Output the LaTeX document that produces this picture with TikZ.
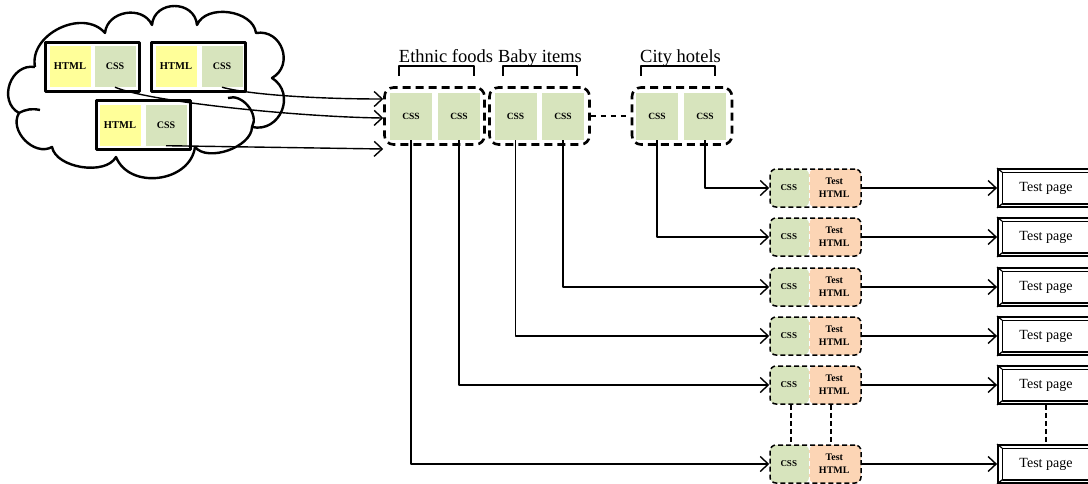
\documentclass[tikz,border=0pt]{standalone}
\usepackage{fontspec}
\setmainfont{Liberation Serif}
\usetikzlibrary{arrows.meta,calc}
\definecolor{htmlyellow}{HTML}{FFFF99}
\definecolor{cssgreen}{HTML}{D7E4BD}
\definecolor{testorange}{HTML}{FCD5B5}

\begin{document}
\begin{tikzpicture}[x=1pt,y=-1pt,line join=round,
  cloudline/.style={line width=2.4pt},
  cell/.style={inner sep=0pt,font=\fontsize{9.5}{13}\selectfont\bfseries},
  htmlcell/.style={cell,fill=htmlyellow,minimum width=41pt,minimum height=41pt,font=\fontsize{10.5}{12}\selectfont\bfseries},
  csscell/.style={cell,fill=cssgreen,minimum width=41pt,minimum height=41pt,font=\fontsize{10}{12}\selectfont\bfseries},
  bundle/.style={draw,line width=3pt,fill=white,minimum width=94pt,minimum height=49pt,inner sep=0pt},
  site/.style={draw,line width=2.6pt,dash pattern=on 8pt off 5pt,rounded corners=9pt,
    minimum width=100pt,minimum height=57pt,inner sep=0pt},
  sitecss/.style={cell,fill=cssgreen,minimum width=42pt,minimum height=47pt},
  bracket/.style={line width=2.5pt},
  sitelabel/.style={font=\fontsize{18.5}{20}\selectfont,anchor=base,inner sep=0pt},
  conn/.style={line width=1.4pt,-{Straight Barb[length=8pt,width=15pt,line width=1.4pt]}},
  testrow/.style={draw,line width=1.5pt,dash pattern=on 5pt off 3pt,rounded corners=6pt,
    minimum width=91pt,minimum height=38pt,inner sep=0pt,
    path picture={
      \fill[cssgreen] (path picture bounding box.north west) rectangle ([xshift=39pt]path picture bounding box.south west);
      \fill[testorange] ([xshift=39pt]path picture bounding box.north west) rectangle (path picture bounding box.south east);
      \draw[white,line width=1pt] ([xshift=39pt]path picture bounding box.north west) -- ([xshift=39pt]path picture bounding box.south west);}},
  rowcss/.style={cell,font=\fontsize{9}{13}\selectfont\bfseries},
  rowhtml/.style={cell,align=center,font=\fontsize{10}{13}\selectfont\bfseries},
  pagebox/.style={draw,line width=1.8pt,minimum width=96pt,minimum height=38pt,inner sep=0pt,
    font=\fontsize{14}{16}\selectfont},
  bevel/.style={line width=1.2pt},
  rowlink/.style={line width=1.5pt,dash pattern=on 5pt off 3pt}
]
\clip (0,0) rectangle (1088,483);

% cloud outline built from puffs
\draw[cloudline] (35,67) to[bend left=75,looseness=1.1] (105,33)
  to[bend left=75,looseness=1.2] (152,25)
  to[bend left=85,looseness=1.45] (197,25)
  to[bend left=75,looseness=1.0] (256,33)
  to[bend left=80,looseness=1.4] (272,78)
  to[bend left=80,looseness=1.4] (252,127)
  to[bend left=70,looseness=0.85] (195,147)
  to[bend left=75,looseness=1.15] (116,157)
  to[bend left=70,looseness=0.85] (52,147)
  to[bend left=75,looseness=1.1] (19,113)
  to[bend left=80,looseness=1.3] (35,67);
\draw[cloudline] (228,98) to[bend left=70,looseness=1.0] (252,127);
\draw[cloudline] (19,113) to[bend left=20] (40,110);

% HTML/CSS bundles inside the cloud
\node[bundle] (b1) at (92.5,66.5) {};
\node[htmlcell] (b1h) at (70,66.5) {HTML};
\node[csscell] (b1c) at (115,66.5) {CSS};
\node[bundle] (b2) at (198.5,66.5) {};
\node[htmlcell] (b2h) at (176,66.5) {HTML};
\node[csscell] (b2c) at (222,66.5) {CSS};
\node[bundle] (b3) at (143.5,124.5) {};
\node[htmlcell] (b3h) at (120,125) {HTML};
\node[csscell] (b3c) at (166,125) {CSS};

% site groups
\node[site] (g1) at (434.5,116) {};
\node[sitecss] (g1a) at (411,116.5) {CSS};
\node[sitecss] (g1b) at (459,116.5) {CSS};
\node[site] (g2) at (539.5,116) {};
\node[sitecss] (g2a) at (515.5,116.5) {CSS};
\node[sitecss] (g2b) at (563,116.5) {CSS};
\node[site] (g3) at (682,116) {};
\node[sitecss] (g3a) at (657,116.5) {CSS};
\node[sitecss] (g3b) at (705,116.5) {CSS};
\draw[line width=2pt,dash pattern=on 5pt off 5pt] (g2.east) -- (g3.west);

% group labels with brackets
\node[sitelabel] (l1) at (446,62) {Ethnic foods};
\node[sitelabel] (l2) at (540,62) {Baby items};
\node[sitelabel] (l3) at (680.5,62) {City hotels};
\draw[bracket] ($(g1.north)+(-35.5,-10)$) -- ++(0,-10) -- ++(75,0) -- ++(0,10);
\draw[bracket] ($(g2.north)+(-36.5,-10)$) -- ++(0,-10) -- ++(74,0) -- ++(0,10);
\draw[bracket] ($(g3.north)+(-41,-10)$) -- ++(0,-10) -- ++(74,0) -- ++(0,10);

% CSS from the cloud into the first group
\draw[conn] (b2c.south) .. controls (250,95) and (320,99) .. ($(g1.west)+(0,-17)$);
\draw[conn] (b1c.south) .. controls (150,102) and (300,117) .. ($(g1.west)+(0,2)$);
\draw[conn] (b3c.south) -- ($(g1.west)+(0,33)$);

% test rows and resulting pages
\foreach \i/\y in {1/188,2/237,3/287,4/336,5/385,6/464} {
  \node[testrow] (r\i) at (815.5,\y) {};
  \node[rowcss] (r\i css) at ($(r\i.west)+(19.5,0)$) {CSS};
  \node[rowhtml] (r\i html) at ($(r\i.west)+(65,0)$) {Test\\HTML};
  \node[pagebox] (p\i) at (1046,\y) {Test page};
  \draw[bevel] ($(p\i.north west)+(5,4)$) rectangle ($(p\i.south east)+(-5,-4)$);
  \draw[bevel] (p\i.north west) -- ++(5,4);
  \draw[bevel] (p\i.south west) -- ++(5,-4);
  \draw[bevel] (p\i.north east) -- ++(-5,4);
  \draw[bevel] (p\i.south east) -- ++(-5,-4);
  \draw[conn] (r\i.east) -- (p\i.west);
}

% CSS cells feeding the test rows
\draw[conn] (g3b.south) |- (r1.west);
\draw[conn] (g3a.south) |- (r2.west);
\draw[conn] (g2b.south) |- (r3.west);
\draw[conn] (g2a.south) |- (r4.west);
\draw[conn] (g1b.south) |- (r5.west);
\draw[conn] (g1a.south) |- (r6.west);

% elided rows
\draw[rowlink] ($(r5.south)+(-24.5,0)$) -- ($(r6.north)+(-24.5,0)$);
\draw[rowlink] ($(r5.south)+(15.5,0)$) -- ($(r6.north)+(15.5,0)$);
\draw[rowlink] (p5.south) -- (p6.north);
\end{tikzpicture}
\end{document}
